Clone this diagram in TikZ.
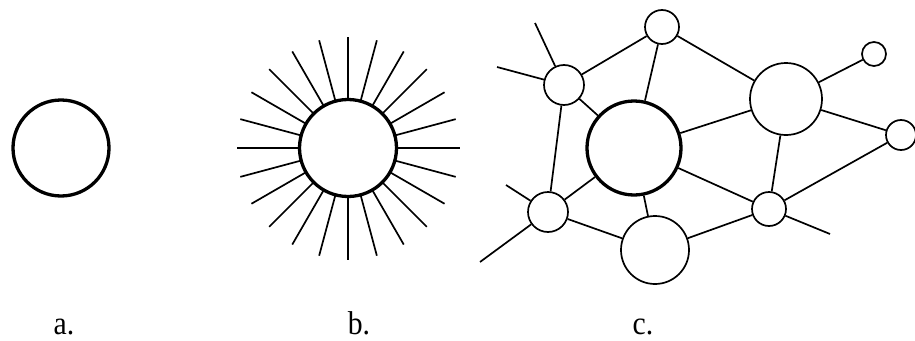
\documentclass[tikz,border=0pt]{standalone}
\usepackage{fontspec}
\setmainfont{Liberation Serif}
\begin{document}
\begin{tikzpicture}[x=1pt,y=-1pt,
  thin line/.style={line width=1.7pt},
  thick circ/.style={circle,draw,line width=3.3pt,inner sep=0pt,fill=white},
  nd/.style={circle,draw,line width=1.7pt,inner sep=0pt,fill=white,minimum size=#1},
  lbl/.style={font=\fontsize{33}{33}\selectfont,anchor=base,inner sep=0pt,xscale=0.9}]
\useasboundingbox (0,0) rectangle (915,340);
% a
\node[thick circ,minimum size=96pt] (ca) at (61,148) {};
% b
\foreach \a in {0,15,...,345}{
  \draw[thin line] (348,148) ++(\a:49.5) -- ++(\a:62);
}
\node[thick circ,minimum size=97pt] (cb) at (348,148) {};
% c
\node[thick circ,minimum size=94pt] (cen) at (634,148) {};
\node[nd=34pt] (top) at (662,27) {};
\node[nd=40pt] (ul) at (564,85) {};
\node[nd=72pt] (br) at (786,99) {};
\node[nd=24pt] (tr) at (874,54) {};
\node[nd=30pt] (rt) at (901,135) {};
\node[nd=34pt] (lr) at (769,209) {};
\node[nd=68pt] (bot) at (655,250) {};
\node[nd=40pt] (ll) at (548,212) {};
\coordinate (f1) at (535,23);
\coordinate (f2) at (497,67);
\coordinate (f3) at (506,185);
\coordinate (f4) at (480,262);
\coordinate (f5) at (830,234);
\begin{scope}[thin line]
\draw (ul) -- (top);
\draw (top) -- (cen);
\draw (top) -- (br);
\draw (ul) -- (cen);
\draw (ul) -- (ll);
\draw (f1) -- (ul);
\draw (f2) -- (ul);
\draw (br) -- (tr);
\draw (br) -- (rt);
\draw (br) -- (cen);
\draw (br) -- (lr);
\draw (cen) -- (lr);
\draw (cen) -- (ll);
\draw (cen) -- (bot);
\draw (ll) -- (bot);
\draw (f3) -- (ll);
\draw (f4) -- (ll);
\draw (bot) -- (lr);
\draw (lr) -- (rt);
\draw (f5) -- (lr);
\end{scope}
% labels
\node[lbl] (la) at (64,334) {a.};
\node[lbl] (lb) at (359,334) {b.};
\node[lbl] (lc) at (643,334) {c.};
\end{tikzpicture}
\end{document}
